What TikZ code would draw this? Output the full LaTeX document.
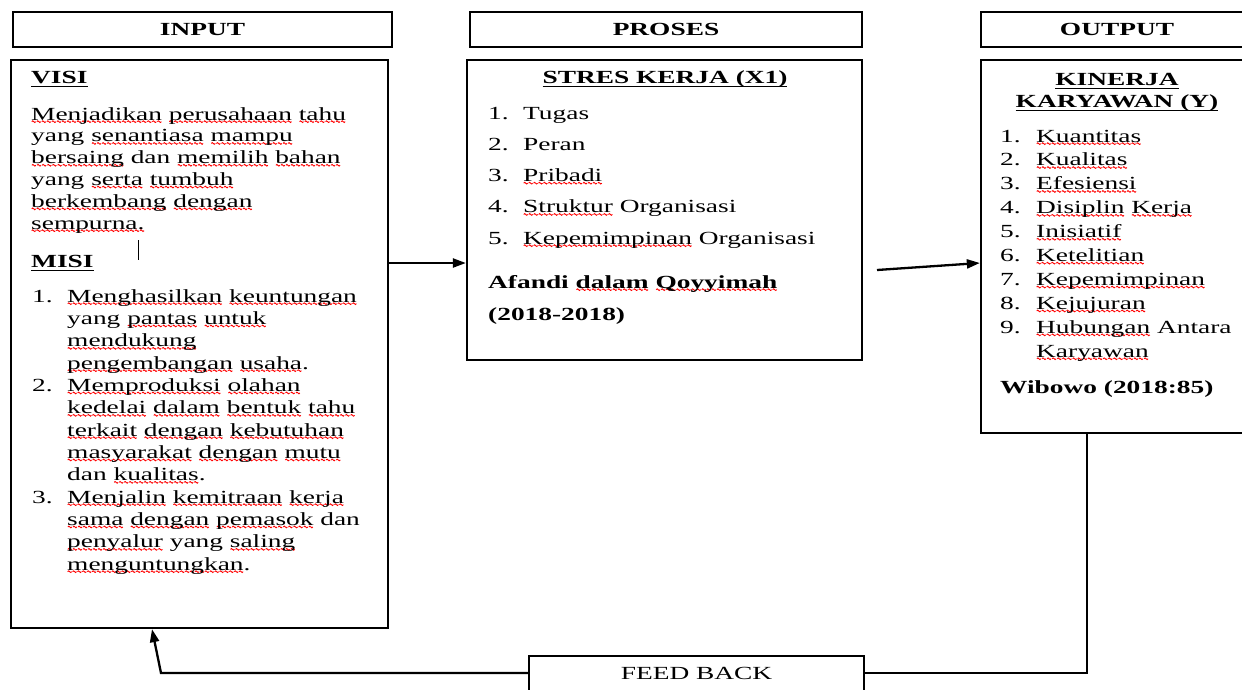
\documentclass[tikz,border=0pt]{standalone}
\usepackage{fontspec}
\setmainfont{Liberation Serif}[FakeStretch=1.48]
\usetikzlibrary{arrows.meta}
\newlength\rwlen
\newsavebox\wavebox
\newcommand\rw[1]{\settowidth\rwlen{#1}\leavevmode\rlap{\lower3.2pt\hbox to\rwlen{\xleaders\copy\wavebox\hfil}}#1}
\newcommand\ul[1]{\settowidth\rwlen{#1}\leavevmode\rlap{\rule[-4pt]{\rwlen}{1.4pt}}#1}
\begin{document}
\sbox\wavebox{\begin{pgfpicture}
  \pgfsetlinewidth{0.9pt}\pgfsetstrokecolor{red}
  \pgfpathmoveto{\pgfpoint{0pt}{0pt}}
  \pgfpathcurveto{\pgfpoint{0.7pt}{1.1pt}}{\pgfpoint{1.3pt}{1.1pt}}{\pgfpoint{2pt}{0pt}}
  \pgfpathcurveto{\pgfpoint{2.7pt}{-1.1pt}}{\pgfpoint{3.3pt}{-1.1pt}}{\pgfpoint{4pt}{0pt}}
  \pgfusepath{stroke}
  \pgfpathrectangle{\pgfpoint{0pt}{-1pt}}{\pgfpoint{4pt}{2pt}}
  \pgfusepath{use as bounding box}
\end{pgfpicture}}
\begin{tikzpicture}[x=1pt,y=-1pt,
  font=\fontsize{18.5}{22}\selectfont,
  box/.style={draw,line width=2.3pt,inner sep=0pt},
  hdr/.style={box,font=\fontsize{18.5}{22}\selectfont\bfseries},
  txt/.style={anchor=base west,inner sep=0pt},
  btxt/.style={txt,font=\fontsize{18.5}{22}\selectfont\bfseries},
  ttl/.style={anchor=base,inner sep=0pt,font=\fontsize{18.5}{22}\selectfont\bfseries},
  conn/.style={line width=2.3pt,-{Triangle[length=13pt,width=9pt]}},
  wire/.style={line width=2.3pt}]
\useasboundingbox (0,0) rectangle (1242,689);

% header boxes
\node[hdr,minimum width=379pt,minimum height=35pt] (hin) at (202.5,29.5) {INPUT};
\node[hdr,minimum width=392pt,minimum height=35pt] (hpr) at (666,29.5) {PROSES};
\node[hdr,minimum width=272pt,minimum height=35pt] (hout) at (1117,29.5) {OUTPUT};

% body boxes
\node[box,minimum width=377pt,minimum height=568pt] (bin) at (199.5,344) {};
\node[box,minimum width=395pt,minimum height=300pt] (bpr) at (664.5,210) {};
\node[box,minimum width=272pt,minimum height=373pt] (bout) at (1117,246.5) {};
\node[box,minimum width=335pt,minimum height=35pt] (fb) at (696.5,673.5) {FEED BACK};

% INPUT content
\node[btxt] (visi) at (31,83) {\ul{VISI}};
\node[txt] (v1) at (31,120) {\rw{Menjadikan} \rw{perusahaan} \rw{tahu}};
\node[txt] (v2) at (31,141.8) {yang \rw{senantiasa} \rw{mampu}};
\node[txt] (v3) at (31,163.6) {\rw{bersaing} dan \rw{memilih} \rw{bahan}};
\node[txt] (v4) at (31,185.4) {yang \rw{serta} \rw{tumbuh}};
\node[txt] (v5) at (31,207.2) {\rw{berkembang} \rw{dengan}};
\node[txt] (v6) at (31,229) {\rw{sempurna.}};
\draw[line width=1pt] (138,240) -- (138,260);
\node[btxt] (misi) at (31,267) {\ul{MISI}};
\node[txt] (mn1) at (32,302) {1.};
\node[txt] (m1) at (67,302) {\rw{Menghasilkan} \rw{keuntungan}};
\node[txt] (m2) at (67,324.3) {yang \rw{pantas} \rw{untuk}};
\node[txt] (m3) at (67,346.7) {\rw{mendukung}};
\node[txt] (m4) at (67,369) {\rw{pengembangan} \rw{usaha}.};
\node[txt] (mn2) at (32,391.3) {2.};
\node[txt] (m5) at (67,391.3) {\rw{Memproduksi} \rw{olahan}};
\node[txt] (m6) at (67,413.7) {\rw{kedelai} \rw{dalam} \rw{bentuk} \rw{tahu}};
\node[txt] (m7) at (67,436) {\rw{terkait} \rw{dengan} \rw{kebutuhan}};
\node[txt] (m8) at (67,458.3) {\rw{masyarakat} \rw{dengan} \rw{mutu}};
\node[txt] (m9) at (67,480.7) {dan \rw{kualitas}.};
\node[txt] (mn3) at (32,503) {3.};
\node[txt] (m10) at (67,503) {\rw{Menjalin} \rw{kemitraan} \rw{kerja}};
\node[txt] (m11) at (67,525.3) {\rw{sama} \rw{dengan} \rw{pemasok} dan};
\node[txt] (m12) at (67,547.7) {\rw{penyalur} yang \rw{saling}};
\node[txt] (m13) at (67,570) {\rw{menguntungkan}.};

% PROSES content
\node[ttl] (stres) at (665,83) {\ul{STRES KERJA (X1)}};
\node[txt] (pn1) at (488,119) {1.};
\node[txt] (p1) at (523,119) {Tugas};
\node[txt] (pn2) at (488,150.3) {2.};
\node[txt] (p2) at (523,150.3) {Peran};
\node[txt] (pn3) at (488,181.5) {3.};
\node[txt] (p3) at (523,181.5) {\rw{Pribadi}};
\node[txt] (pn4) at (488,212.8) {4.};
\node[txt] (p4) at (523,212.8) {\rw{Struktur} Organisasi};
\node[txt] (pn5) at (488,244) {5.};
\node[txt] (p5) at (523,244) {\rw{Kepemimpinan} Organisasi};
\node[btxt] (afandi) at (488,288) {Afandi \rw{dalam} \rw{Qoyyimah}};
\node[btxt] (year) at (488,320) {(2018-2018)};

% OUTPUT content
\node[ttl] (kin1) at (1117,85) {\ul{KINERJA}};
\node[ttl] (kin2) at (1117,107) {\ul{KARYAWAN (Y)}};
\node[txt] (on1) at (1000,142) {1.};
\node[txt] (o1) at (1036,142) {\rw{Kuantitas}};
\node[txt] (on2) at (1000,165.9) {2.};
\node[txt] (o2) at (1036,165.9) {\rw{Kualitas}};
\node[txt] (on3) at (1000,189.8) {3.};
\node[txt] (o3) at (1036,189.8) {\rw{Efesiensi}};
\node[txt] (on4) at (1000,213.7) {4.};
\node[txt] (o4) at (1036,213.7) {\rw{Disiplin} \rw{Kerja}};
\node[txt] (on5) at (1000,237.6) {5.};
\node[txt] (o5) at (1036,237.6) {\rw{Inisiatif}};
\node[txt] (on6) at (1000,261.5) {6.};
\node[txt] (o6) at (1036,261.5) {\rw{Ketelitian}};
\node[txt] (on7) at (1000,285.4) {7.};
\node[txt] (o7) at (1036,285.4) {\rw{Kepemimpinan}};
\node[txt] (on8) at (1000,309.3) {8.};
\node[txt] (o8) at (1036,309.3) {\rw{Kejujuran}};
\node[txt] (on9) at (1000,333.2) {9.};
\node[txt] (o9) at (1036,333.2) {\rw{Hubungan} Antara};
\node[txt] (o10) at (1036,357.1) {\rw{Karyawan}};
\node[btxt] (wib) at (1000,393) {Wibowo (2018:85)};

% connectors
\coordinate (y1) at (0,263);
\coordinate (a2s) at (877,270);
\coordinate (c1) at (1087,673);
\coordinate (c2) at (161,673);
\coordinate (tip) at (152,0);
\draw[conn] (bin.east |- y1) -- (bpr.west |- y1);
\draw[conn] (a2s) -- (bout.west |- y1);
\draw[wire] (bout.south -| c1) -- (c1) -- (fb.east |- c1);
\draw[conn] (fb.west |- c2) -- (c2) -- (bin.south -| tip);
\end{tikzpicture}
\end{document}
